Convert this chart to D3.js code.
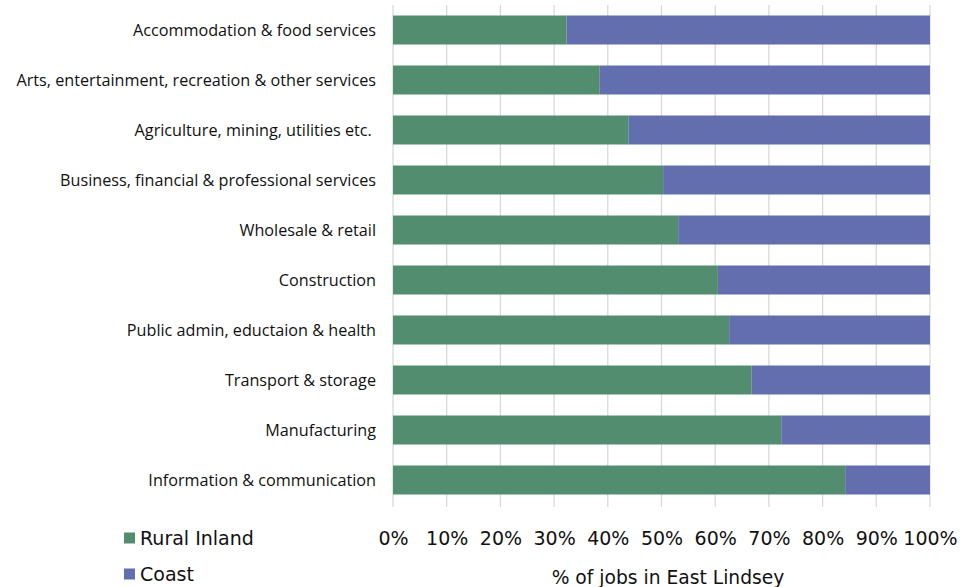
<!DOCTYPE html>
<html><head><meta charset="utf-8">
<script src="https://cdn.jsdelivr.net/npm/d3@7"></script>
<style>body{margin:0;background:#fff}</style>
</head><body>
<svg id="c" width="978" height="587"></svg>
<script>
const categories = ["Accommodation & food services","Arts, entertainment, recreation & other services","Agriculture, mining, utilities etc. ","Business, financial & professional services","Wholesale & retail","Construction","Public admin, eductaion & health","Transport & storage","Manufacturing","Information & communication"];
const ruralInland = [32.3, 38.5, 43.9, 50.3, 53.1, 60.5, 62.6, 66.8, 72.3, 84.2];
const coast = ruralInland.map(v => 100 - v);
const seriesNames = ["Rural Inland","Coast"];
const seriesColors = ["#528d70","#636eae"];
const tickValues = [0,10,20,30,40,50,60,70,80,90,100];

const svg = d3.select("#c");
const x = d3.scaleLinear().domain([0,100]).range([393,930]);
const y = d3.scaleBand().domain(categories).range([5,505]).paddingInner(0.42).paddingOuter(0.21);

svg.append("g").selectAll("line").data(tickValues).join("line")
  .attr("x1", d=>x(d)).attr("x2", d=>x(d)).attr("y1",5).attr("y2",507)
  .attr("stroke","#d9d9d9").attr("stroke-width",1.3);

const data = categories.map((c,i)=>({cat:c, vals:[ruralInland[i], coast[i]]}));
const stack = d3.stack().keys([0,1]).value((d,k)=>d.vals[k]);
const layers = stack(data);
svg.append("g").selectAll("g").data(layers).join("g")
  .attr("fill",(d,i)=>seriesColors[i])
  .selectAll("rect").data(d=>d).join("rect")
  .attr("x", d=>x(d[0])).attr("width", d=>x(d[1])-x(d[0]))
  .attr("y", d=>y(d.data.cat)).attr("height", y.bandwidth());

svg.append("g").selectAll("text").data(categories).join("text")
  .attr("x",376).attr("y", d=>y(d)+y.bandwidth()/2)
  .attr("dy","0.35em").attr("text-anchor","end")
  .style("white-space","pre")
  .attr("font-family","'Open Sans', sans-serif").attr("font-size",16.2)
  .attr("fill","#111").text(d=>d);

const xAxis = d3.axisBottom(x).tickValues(tickValues).tickFormat(d=>d+"%").tickSize(0).tickPadding(0);
const ax = svg.append("g").attr("transform","translate(0,538)").call(xAxis);
ax.select(".domain").remove();
ax.selectAll("text").attr("font-family","'DejaVu Sans', Verdana, sans-serif").attr("font-size",19).attr("fill","#111").attr("dy","0.35em").attr("y",0);

svg.append("text").attr("x",668).attr("y",577).attr("dy","0.35em").attr("text-anchor","middle")
  .attr("font-family","'DejaVu Sans', Verdana, sans-serif").attr("font-size",18.7).attr("fill","#111")
  .text("% of jobs in East Lindsey");

const lg = svg.append("g").selectAll("g").data(seriesNames).join("g")
  .attr("transform",(d,i)=>`translate(124,${538+i*36})`);
lg.append("rect").attr("x",0).attr("y",-5.5).attr("width",11).attr("height",11).attr("fill",(d,i)=>seriesColors[i]);
lg.append("text").attr("x",16).attr("y",0).attr("dy","0.35em")
  .attr("font-family","'DejaVu Sans', Verdana, sans-serif").attr("font-size",19).attr("fill","#111").text(d=>d);
</script>
</body></html>
